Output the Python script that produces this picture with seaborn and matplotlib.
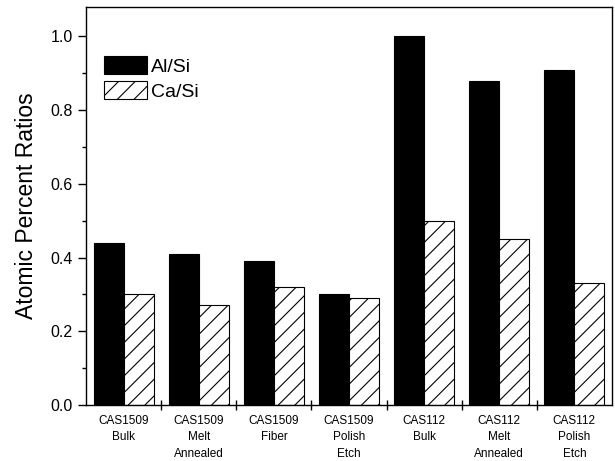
import matplotlib
matplotlib.use("Agg")
import matplotlib.pyplot as plt
import seaborn as sns
import pandas as pd
import numpy as np
from matplotlib.ticker import MultipleLocator, FixedLocator

categories = ["CAS1509\nBulk", "CAS1509\nMelt\nAnnealed", "CAS1509\nFiber",
              "CAS1509\nPolish\nEtch", "CAS112\nBulk", "CAS112\nMelt\nAnnealed",
              "CAS112\nPolish\nEtch"]
al_si = [0.44, 0.41, 0.39, 0.30, 1.00, 0.88, 0.91]
ca_si = [0.30, 0.27, 0.32, 0.29, 0.50, 0.45, 0.33]
series = ["Al/Si", "Ca/Si"]

df = pd.DataFrame({
    "cat": categories * 2,
    "val": al_si + ca_si,
    "series": [series[0]] * len(categories) + [series[1]] * len(categories),
})

sns.set_style("ticks")
plt.rcParams['font.family'] = ['Liberation Sans', 'DejaVu Sans']
plt.rcParams['hatch.linewidth'] = 0.8
plt.rcParams['text.color'] = 'black'
plt.rcParams['axes.labelcolor'] = 'black'
plt.rcParams['xtick.color'] = 'black'
plt.rcParams['ytick.color'] = 'black'

fig = plt.figure(figsize=(6.15, 4.61), dpi=100)
ax = fig.add_axes([0.14, 0.1215, 0.855, 0.8635])

sns.barplot(data=df, x="cat", y="val", hue="series", order=categories,
            hue_order=series, palette=["black", "white"], width=0.8,
            edgecolor="black", linewidth=0.8, ax=ax, legend=False)

for p in ax.containers[1]:
    p.set_hatch("//")
    p.set_facecolor("white")
    p.set_edgecolor("black")

ax.set_ylim(0, 1.08)
ax.set_xlim(-0.5, len(categories) - 0.5)
ax.yaxis.set_major_locator(MultipleLocator(0.2))
ax.yaxis.set_minor_locator(MultipleLocator(0.1))
ax.set_yticklabels([f"{v:.1f}" for v in ax.get_yticks()])
ax.tick_params(axis="y", which="major", direction="out", length=6, width=1,
               labelsize=11.5, colors="black")
ax.tick_params(axis="y", which="minor", direction="out", length=3, width=1, colors="black")

pos = np.arange(len(categories))
ax.xaxis.set_major_locator(FixedLocator(pos))
ax.set_xticklabels(categories, fontsize=8.5, linespacing=1.5)
ax.tick_params(axis="x", which="major", length=0, pad=7, colors="black")
ax.xaxis.set_minor_locator(FixedLocator(pos[:-1] + 0.5))
ax.tick_params(axis="x", which="minor", direction="inout", length=7, width=1, colors="black")

for s in ax.spines.values():
    s.set_visible(True)
    s.set_linewidth(1)
    s.set_color("black")

ax.set_xlabel("")
ax.set_ylabel("Atomic Percent Ratios", fontsize=16.5, labelpad=9, color="black")

ax.legend(ax.containers, series, loc="upper left", bbox_to_anchor=(0.034, 0.877),
          frameon=False, fontsize=14, handlelength=2.2, handleheight=1.05,
          handletextpad=0.2, labelspacing=0.3, borderpad=0, borderaxespad=0)

fig.savefig("out.png", dpi=100)
